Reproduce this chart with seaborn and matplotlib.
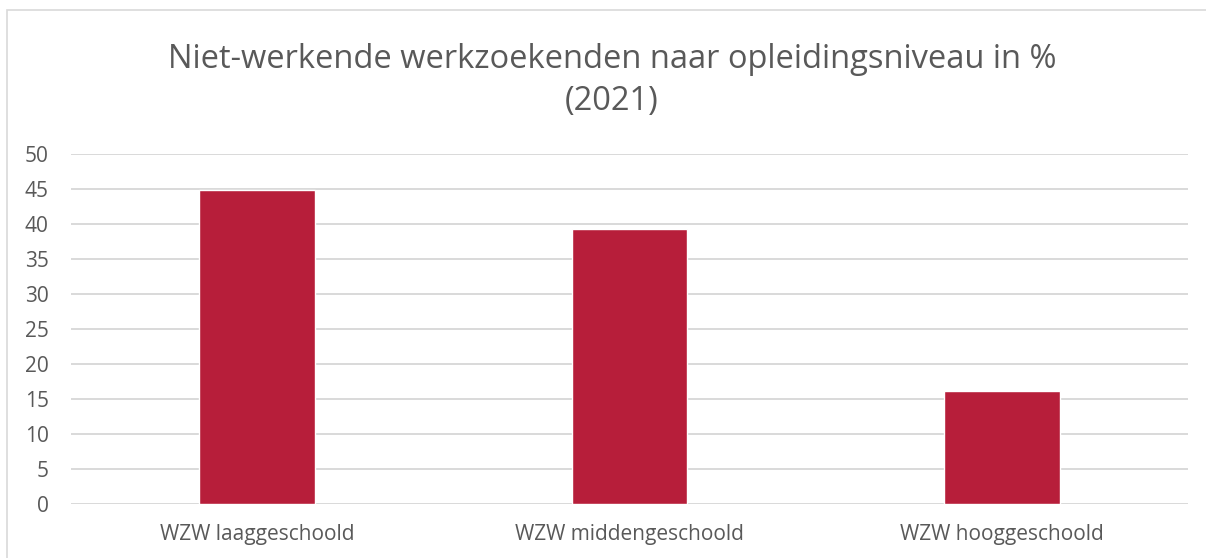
import matplotlib
matplotlib.use("Agg")
import matplotlib.pyplot as plt
from matplotlib.patches import Rectangle
import seaborn as sns
import pandas as pd

categories = ["WZW laaggeschoold", "WZW middengeschoold", "WZW hooggeschoold"]
values = [44.8, 39.3, 16.1]
yticks = [0, 5, 10, 15, 20, 25, 30, 35, 40, 45, 50]
title = "Niet-werkende werkzoekenden naar opleidingsniveau in %\n(2021)"

sns.set_theme(style="white")
plt.rcParams['font.family'] = ['Open Sans', 'DejaVu Sans']

W, H = 1206, 558
fig = plt.figure(figsize=(W / 100, H / 100), dpi=100)
ax = fig.add_axes([71 / W, (H - 504) / H, (1188 - 71) / W, 350 / H])

df = pd.DataFrame({"cat": categories, "val": values})
sns.barplot(data=df, x="cat", y="val", color="#b71e3a", saturation=1,
            width=0.31, ax=ax, zorder=3)

ax.set_ylim(0, 50)
ax.set_xlim(-0.5, 2.5)
ax.set_yticks(yticks)
ax.set_yticklabels([str(v) for v in yticks])
ax.set_xlabel("")
ax.set_ylabel("")
ax.yaxis.grid(True, color="#d9d9d9", linewidth=1.4, zorder=0)
ax.xaxis.grid(False)
ax.set_axisbelow(True)
for s in ax.spines.values():
    s.set_visible(False)
ax.tick_params(axis="y", length=0, pad=16, labelsize=15, labelcolor="#595959")
ax.tick_params(axis="x", length=0, pad=14.5, labelsize=15, labelcolor="#595959")

fig.text(612 / W, (H - 80.5) / H, title, ha="center", va="center",
         fontsize=23.5, color="#595959", linespacing=1.38)

fig.patches.append(Rectangle((7 / W, -0.5), 2, (H - 10) / H + 0.5, fill=False,
                             edgecolor="#d9d9d9", linewidth=1.2,
                             transform=fig.transFigure, figure=fig))

fig.savefig("out.png", dpi=100, facecolor="white")
